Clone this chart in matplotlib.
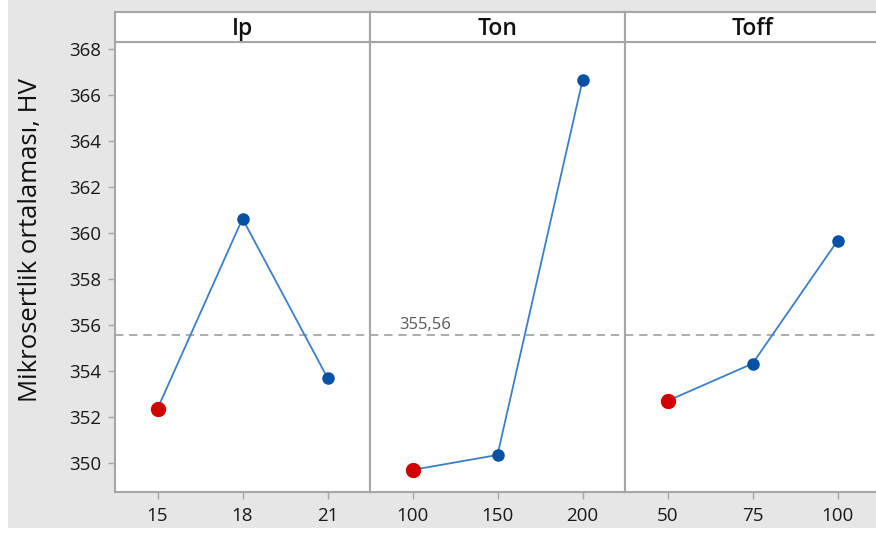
import matplotlib
matplotlib.use("Agg")
import matplotlib.pyplot as plt
from matplotlib.patches import Rectangle

plt.rcParams['font.family'] = ['Open Sans', 'DejaVu Sans']

# Main effects data
factors = ["Ip", "Ton", "Toff"]
levels = [["15", "18", "21"], ["100", "150", "200"], ["50", "75", "100"]]
means_ip = [352.36, 360.62, 353.70]
means_ton = [349.70, 350.35, 366.63]
means_toff = [352.70, 354.32, 359.66]
grand_mean = 355.56
y_ticks = [350, 352, 354, 356, 358, 360, 362, 364, 366, 368]
y_label = "Mikrosertlik ortalaması, HV"

series = [means_ip, means_ton, means_toff]

W, H = 876, 534
fig = plt.figure(figsize=(W / 100, H / 100), dpi=100, facecolor="white")

# grey backdrop
fig.patches.append(Rectangle((8 / W, 6 / H), 1 - 8 / W, 1 - 6 / H,
                             transform=fig.transFigure, facecolor="#e6e6e6",
                             edgecolor="none", zorder=-10))

frame_col = "#a6a6a6"
line_col = "#3c7fcc"
dot_col = "#0451a5"
red_col = "#d10000"
text_col = "#1a1a1a"

left_px, panel_w = 115, 255
bottom_px, top_px, head_px = 492, 42, 12
ylim = (348.74, 368.3)

for i, (name, labs, vals) in enumerate(zip(factors, levels, series)):
    x0 = (left_px + i * panel_w) / W
    ax = fig.add_axes([x0, (H - bottom_px) / H, panel_w / W, (bottom_px - top_px) / H])
    ax.set_facecolor("white")
    xs = list(range(len(vals)))
    ax.axhline(grand_mean, color="#a0a0a0", lw=1.2, ls=(0, (5, 3.5)), zorder=1)
    ax.plot(xs, vals, color=line_col, lw=1.3, zorder=2)
    imin = vals.index(min(vals))
    for j, v in enumerate(vals):
        if j == imin:
            ax.plot(j, v, "o", ms=10, color=red_col, mec=red_col, zorder=3)
        else:
            ax.plot(j, v, "o", ms=8, color=dot_col, mec=dot_col, zorder=3)
    ax.set_xlim(-0.5, 2.5)
    ax.set_ylim(*ylim)
    ax.set_xticks(xs)
    ax.set_xticklabels(labs, fontsize=13.5, color=text_col)
    ax.set_yticks(y_ticks)
    for s in ax.spines.values():
        s.set_color(frame_col)
        s.set_linewidth(1.5)
    ax.tick_params(axis="x", direction="out", length=5, width=1, color=frame_col, pad=6)
    if i == 0:
        ax.set_yticklabels([str(t) for t in y_ticks], fontsize=13.5, color=text_col)
        ax.tick_params(axis="y", direction="out", length=5, width=1, color=frame_col, pad=5)
        ax.set_ylabel(y_label, fontsize=18.5, color="#111111")
        ax.yaxis.set_label_coords((43 - left_px) / panel_w, (bottom_px - 240) / (bottom_px - top_px))
    else:
        ax.tick_params(axis="y", left=False, labelleft=False)
    if i == 1:
        ax.text(-0.15, grand_mean + 0.1, "355,56", fontsize=12,
                color="#5a5a5a", ha="left", va="bottom")

    hx = fig.add_axes([x0, (H - top_px) / H, panel_w / W, (top_px - head_px) / H])
    hx.set_facecolor("white")
    hx.set_xticks([])
    hx.set_yticks([])
    for s in hx.spines.values():
        s.set_color(frame_col)
        s.set_linewidth(1.5)
    hx.text(0.5, 0.43, name, transform=hx.transAxes, ha="center", va="center",
            fontsize=16.5, fontweight="semibold", color="#111111")

fig.savefig("out.png", dpi=100, facecolor=fig.get_facecolor())
